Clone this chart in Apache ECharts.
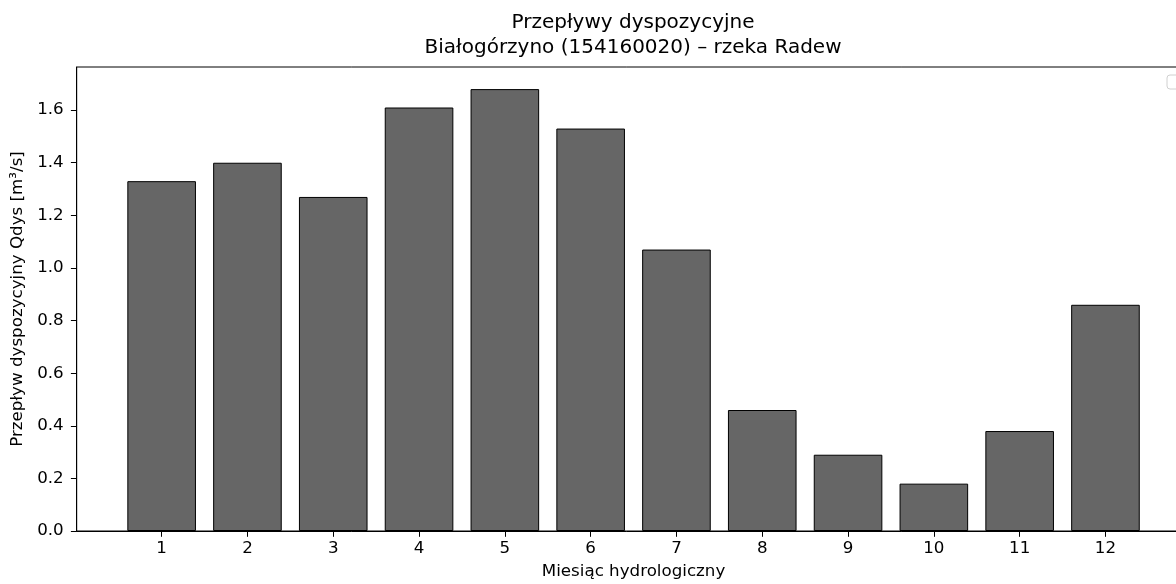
<!DOCTYPE html>
<html>
<head>
<meta charset="utf-8">
<script src="https://cdn.jsdelivr.net/npm/echarts@6/dist/echarts.min.js"></script>
<style>
  html, body { margin: 0; padding: 0; background: #fff; }
  #chart { width: 1176px; height: 584px; }
</style>
</head>
<body>
<div id="chart"></div>
<script>
const titleLines = ['Przepływy dyspozycyjne', 'Białogórzyno (154160020) – rzeka Radew'];
const xAxisName = 'Miesiąc hydrologiczny';
const yAxisName = 'Przepływ dyspozycyjny Qdys [m³/s]';
const months = [1, 2, 3, 4, 5, 6, 7, 8, 9, 10, 11, 12];
const flows = [1.33, 1.40, 1.27, 1.61, 1.68, 1.53, 1.07, 0.46, 0.29, 0.18, 0.38, 0.86];
const yTicks = [0, 0.2, 0.4, 0.6, 0.8, 1.0, 1.2, 1.4, 1.6];

const FONT = 'DejaVu Sans';
const chart = echarts.init(document.getElementById('chart'), null, { renderer: 'canvas' });

chart.setOption({
  animation: false,
  backgroundColor: '#ffffff',
  textStyle: { fontFamily: FONT },
  grid: {
    left: 76.7, top: 67, height: 464, width: 1113.7,
    show: true, borderColor: '#000', borderWidth: 1,
    containLabel: false,
    outerBoundsMode: 'none'
  },
  graphic: [
    { type: 'text', x: 633, y: 23, style: { text: titleLines[0], font: '20px "DejaVu Sans"', fill: '#000', textAlign: 'center', textVerticalAlign: 'middle' } },
    { type: 'text', x: 633, y: 48, style: { text: titleLines[1], font: '20px "DejaVu Sans"', fill: '#000', textAlign: 'center', textVerticalAlign: 'middle' } },
    { type: 'rect', shape: { x: 1167, y: 75, width: 30, height: 14, r: 3 }, style: { fill: '#fff', stroke: '#d0d0d0', lineWidth: 1 }, z: 100 }
  ],
  xAxis: {
    type: 'value',
    min: 0.01, max: 12.99,
    name: xAxisName,
    nameLocation: 'middle',
    nameGap: 32,
    nameTextStyle: { fontFamily: FONT, fontSize: 16.7, color: '#000' },
    splitLine: { show: false },
    axisLine: { show: true, lineStyle: { color: '#000', width: 1 } },
    axisTick: { show: true, length: 5.8, lineStyle: { color: '#000' }, customValues: months },
    axisLabel: { fontFamily: FONT, fontSize: 16.7, color: '#000', margin: 9, customValues: months, formatter: v => String(Math.round(v)) }
  },
  yAxis: {
    type: 'value',
    min: 0, max: 1.764,
    name: yAxisName,
    nameLocation: 'middle',
    nameGap: 45,
    nameRotate: 90,
    nameTextStyle: { fontFamily: FONT, fontSize: 16.7, color: '#000' },
    splitLine: { show: false },
    axisLine: { show: true, lineStyle: { color: '#000', width: 1 } },
    axisTick: { show: true, length: 5.8, lineStyle: { color: '#000' }, customValues: yTicks },
    axisLabel: { fontFamily: FONT, fontSize: 16.7, color: '#000', margin: 13, customValues: yTicks, formatter: v => v.toFixed(1) }
  },
  series: [{
    type: 'bar',
    data: months.map((m, i) => [m, flows[i]]),
    barWidth: 68.6,
    itemStyle: { color: '#666666', borderColor: '#000', borderWidth: 1 }
  }]
});
</script>
</body>
</html>
